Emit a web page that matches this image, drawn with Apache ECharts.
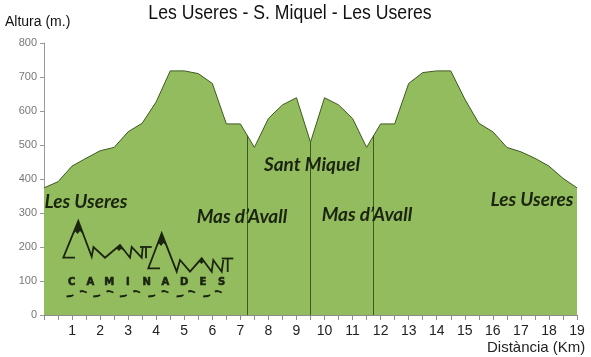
<!DOCTYPE html>
<html><head><meta charset="utf-8">
<script src="https://cdn.jsdelivr.net/npm/echarts/dist/echarts.min.js"></script>
<style>html,body{margin:0;padding:0;background:#fff}#c{width:591px;height:357px}</style>
</head><body><div id="c"></div>
<script>
// ---- data ----
const distanceKm = [0,0.5,1,1.5,2,2.5,3,3.5,4,4.5,5,5.5,6,6.5,7,7.5,8,8.5,9,9.5,10,10.5,11,11.5,12,12.5,13,13.5,14,14.5,15,15.5,16,16.5,17,17.5,18,18.5,19];
const elevationM = [374,392,438,461,483,493,539,564,627,718,718,710,681,562,562,493,578,618,639,508,639,618,578,493,562,562,681,713,718,718,635,564,539,493,480,461,438,402,374];
const xTickLabels = [1,2,3,4,5,6,7,8,9,10,11,12,13,14,15,16,17,18,19];
const yTickLabels = [0,100,200,300,400,500,600,700,800];
const dividerKm = [7.25, 9.5, 11.75];
const placeNames = ['Les Useres','Mas d\u2019Avall','Sant Miquel','Mas d\u2019Avall','Les Useres'];
const logoLetters = ['C','A','M','I','N','A','D','E','S'];
const titleText = 'Les Useres - S. Miquel - Les Useres';

// ---- helpers ----
function elevAt(k){
  for(let i=0;i<distanceKm.length-1;i++){
    if(k>=distanceKm[i] && k<=distanceKm[i+1]){
      const t=(k-distanceKm[i])/(distanceKm[i+1]-distanceKm[i]);
      return elevationM[i]+t*(elevationM[i+1]-elevationM[i]);
    }
  }
  return 0;
}
const profile = distanceKm.map((k,i)=>[k,elevationM[i]]);
const dividers = dividerKm.map(k=>[{coord:[k,0]},{coord:[k,elevAt(k)]}]);

const FILL='#93bc5f', EDGE='#3d5a20', INK='#1b2410';
const placeFont='italic bold 19px Lato, "Open Sans", sans-serif';
const placePos=[[86,202],[242,217],[312,165],[367,215],[532,200]];

const graphics=[];
// title (condensed look)
graphics.push({type:'text',x:290,y:13,scaleX:0.84,style:{text:titleText,font:'21px "Liberation Sans", Arial, sans-serif',fill:'#111',align:'center',verticalAlign:'middle'}});
// axis names
graphics.push({type:'text',left:5,top:15,style:{text:'Altura (m.)',font:'14px "Liberation Sans", Arial, sans-serif',fill:'#111'}});
graphics.push({type:'text',left:487,top:340,style:{text:'Dist\u00e0ncia (Km)',font:'15px "Liberation Sans", Arial, sans-serif',fill:'#222'}});
// place names
placeNames.forEach((t,i)=>{
  graphics.push({type:'text',x:placePos[i][0],y:placePos[i][1],z:10,style:{text:t,font:placeFont,fill:INK,align:'center',verticalAlign:'middle'}});
});
// logo
const lineStyle={stroke:INK,lineWidth:1.8,fill:null};
function pl(pts){graphics.push({type:'polyline',z:10,shape:{points:pts},style:lineStyle});}
function pg(pts){graphics.push({type:'polygon',z:11,shape:{points:pts},style:{fill:INK}});}
pl([[75,257.7],[63.3,257.7],[78.3,221],[91.7,256.7],[93.5,247],[105,257.7],[120,245],[130,257.7],[131.7,247],[141.7,257.7],[142.7,247]]);
pl([[140,247],[151.7,247]]); pl([[146,247],[146,258.3]]);
pl([[160,268.3],[148.3,268.3],[161.7,233.3],[176.7,271.7],[180,260],[190,271.7],[201.7,258.3],[211.7,271.7],[213.3,260],[221.7,271.7],[223.3,260]]);
pl([[221.7,258.5],[233.3,258.5]]); pl([[227.7,258.5],[227.7,272]]);
pg([[78.3,221],[73.2,234],[75.5,231.5],[77.5,234],[80,231],[83,234]]);
pg([[120,245],[114,250.5],[117,249],[119,251],[121,249],[124,250.5]]);
pg([[161.7,233.3],[156.8,246],[159,243.5],[161,246],[163.5,243],[166.7,246]]);
pg([[201.7,258.3],[197.2,263.5],[199.5,262],[201.5,264],[203.5,262],[205.6,263.5]]);
logoLetters.forEach((ch,i)=>{
  graphics.push({type:'text',z:10,x:71.7+i*18.75,y:282,style:{text:ch,font:'bold 10px "DejaVu Sans", sans-serif',fill:INK,align:'center',verticalAlign:'middle',stroke:INK,lineWidth:0.6}});
});
[70,96.7,123.3,151.7,180,206.7].forEach(x=>pl([[x-3.5,296.5],[x+1,296],[x+3.5,295]]));
[83.3,110,136.7,165,191.7,218.3].forEach(x=>pl([[x-3.5,291.5],[x-1,291],[x+3.5,292.5]]));

const chart=echarts.init(document.getElementById('c'),null,{renderer:'canvas'});
chart.setOption({
  animation:false,
  backgroundColor:'#fff',
  grid:{left:44,right:14,top:43,bottom:42,containLabel:false},
  xAxis:{type:'value',min:0,max:19,interval:0.5,
    axisLine:{show:true,lineStyle:{color:'#8c8c8c',width:1}},
    axisTick:{show:true,length:5,lineStyle:{color:'#8c8c8c'}},
    splitLine:{show:false},
    axisLabel:{margin:9,color:'#222',fontSize:14,fontFamily:'"Liberation Sans", Arial, sans-serif',
      formatter:v=>xTickLabels.indexOf(v)>=0?String(v):''}},
  yAxis:{type:'value',min:0,max:800,interval:100,
    axisLine:{show:true,lineStyle:{color:'#999',width:1}},
    axisTick:{show:true,length:4,lineStyle:{color:'#999'}},
    splitLine:{show:false},
    axisLabel:{margin:7,color:'#777',fontSize:11,fontFamily:'"Liberation Sans", Arial, sans-serif',
      formatter:v=>yTickLabels.indexOf(v)>=0?String(v):''}},
  series:[{type:'line',data:profile,symbol:'none',smooth:false,
    lineStyle:{color:EDGE,width:1},
    areaStyle:{color:FILL,opacity:1},
    markLine:{silent:true,symbol:'none',label:{show:false},
      lineStyle:{color:EDGE,width:1,type:'solid'},data:dividers}}],
  graphic:graphics
});
</script></body></html>
